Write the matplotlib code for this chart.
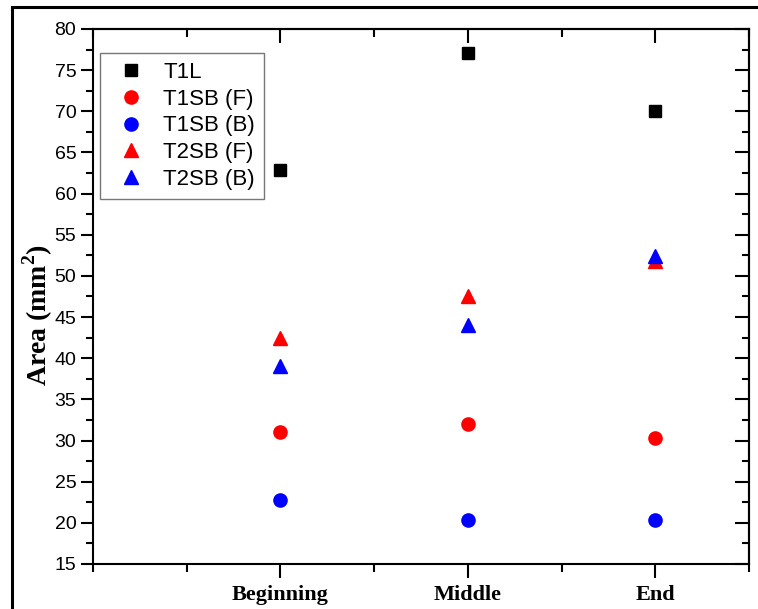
import matplotlib
matplotlib.use("Agg")
import matplotlib.pyplot as plt
from matplotlib.patches import Rectangle
from matplotlib.ticker import MultipleLocator, FixedLocator

plt.rcParams["mathtext.fontset"] = "custom"
plt.rcParams["mathtext.rm"] = "Liberation Serif"
plt.rcParams["mathtext.bf"] = "Liberation Serif:bold"

categories = ["Beginning", "Middle", "End"]
t1l = [62.9, 77.1, 70.0]
t1sb_f = [31.0, 32.0, 30.3]
t1sb_b = [22.8, 20.4, 20.4]
t2sb_f = [42.5, 47.5, 51.8]
t2sb_b = [39.0, 44.0, 52.4]
yticks = list(range(15, 81, 5))

W, H = 758, 609
fig = plt.figure(figsize=(W / 100, H / 100), dpi=100)
ax = fig.add_axes([93 / W, 1 - 564 / H, (749 - 93) / W, (564 - 29) / H])

xpos = [1, 2, 3]
ms = 9.5
ax.plot(xpos, t1l, linestyle="none", marker="s", color="black", markersize=8.5, label="T1L")
ax.plot(xpos, t1sb_f, linestyle="none", marker="o", color="red", markersize=ms, label="T1SB (F)")
ax.plot(xpos, t1sb_b, linestyle="none", marker="o", color="blue", markersize=ms, label="T1SB (B)")
ax.plot(xpos, t2sb_f, linestyle="none", marker="^", color="red", markersize=ms, label="T2SB (F)")
ax.plot(xpos, t2sb_b, linestyle="none", marker="^", color="blue", markersize=ms, label="T2SB (B)")

ax.set_xlim(0, 3.5)
ax.set_ylim(15, 80)
ax.xaxis.set_major_locator(FixedLocator(xpos))
ax.xaxis.set_minor_locator(FixedLocator([0, 0.5, 1.5, 2.5, 3.5]))
ax.set_xticklabels(categories, fontfamily="Liberation Serif", fontweight="bold", fontsize=16)
ax.set_yticks(yticks)
ax.yaxis.set_minor_locator(MultipleLocator(2.5))
for lbl in ax.get_yticklabels():
    lbl.set_fontfamily("Liberation Sans")
    lbl.set_fontsize(14)

for s in ax.spines.values():
    s.set_linewidth(1.5)

ax.tick_params(axis="x", which="both", bottom=True, top=False, direction="out", width=1.5)
ax.tick_params(axis="x", which="major", length=10, pad=5)
ax.tick_params(axis="x", which="minor", length=6)
ax.tick_params(axis="y", which="both", left=True, right=False, direction="out", width=1.5)
ax.tick_params(axis="y", which="major", length=9, pad=3)
ax.tick_params(axis="y", which="minor", length=5)

# mirrored inward ticks on top and right
axt = ax.secondary_xaxis("top")
axt.xaxis.set_major_locator(FixedLocator(xpos))
axt.xaxis.set_minor_locator(FixedLocator([0, 0.5, 1.5, 2.5, 3.5]))
axt.tick_params(axis="x", which="both", direction="in", width=1.5, labeltop=False)
axt.tick_params(axis="x", which="major", length=10)
axt.tick_params(axis="x", which="minor", length=6)
axt.spines["top"].set_linewidth(1.5)
axr = ax.secondary_yaxis("right")
axr.set_yticks(yticks)
axr.yaxis.set_minor_locator(MultipleLocator(2.5))
axr.tick_params(axis="y", which="both", direction="in", width=1.5, labelright=False)
axr.tick_params(axis="y", which="major", length=10)
axr.tick_params(axis="y", which="minor", length=5)
axr.spines["right"].set_linewidth(1.5)

ax.set_ylabel("Area (mm$^\\mathbf{2}$)", fontfamily="Liberation Serif", fontweight="bold",
              fontsize=20)
ax.yaxis.set_label_coords(-0.058, 0.465)

leg = ax.legend(loc="upper left", bbox_to_anchor=(7 / 656, 1 - 24 / 535), frameon=True,
                fancybox=False, edgecolor="#555555", prop={"family": "Liberation Sans", "size": 16},
                handletextpad=0.45, labelspacing=0.26, borderpad=0.4, handlelength=2.0, borderaxespad=0)
leg.get_frame().set_linewidth(1.0)

fig.patches.append(Rectangle((12 / W, -0.1), 1.2, 1 - 7 / H + 0.1, transform=fig.transFigure,
                             fill=False, edgecolor="black", linewidth=2.2))

fig.savefig("out.png", dpi=100)
